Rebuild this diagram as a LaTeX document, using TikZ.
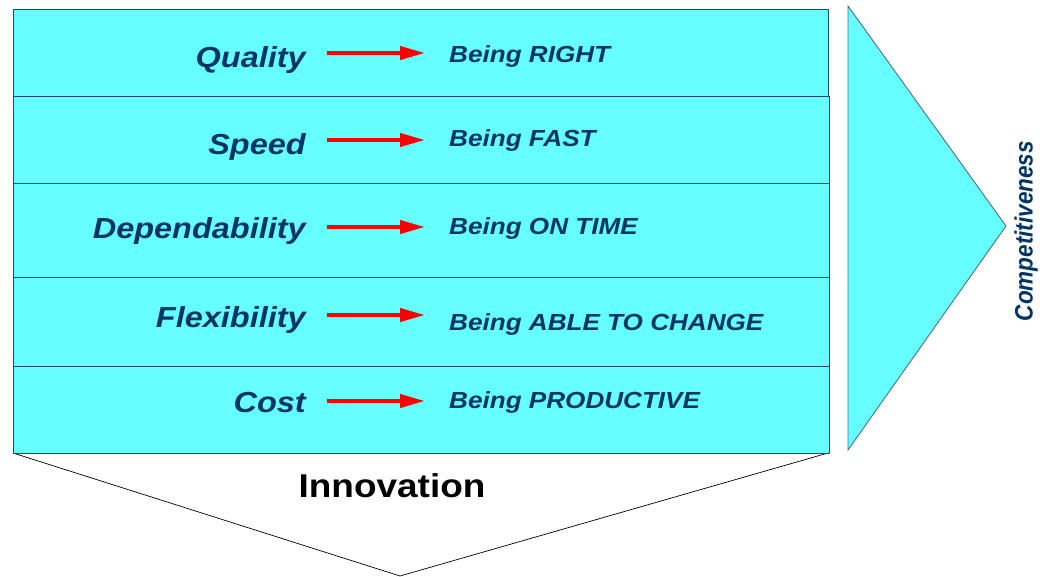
\documentclass[tikz,border=0pt]{standalone}
\usepackage{fontspec}
\setmainfont{Liberation Sans}
\usetikzlibrary{arrows.meta}
\definecolor{rowfill}{HTML}{66FFFF}
\definecolor{rowedge}{HTML}{1F4A6E}
\definecolor{navytext}{HTML}{003366}
\definecolor{arrowred}{HTML}{FF0000}
\tikzset{
  rowbox/.style={draw=rowedge, fill=rowfill, line width=0.9pt},
  factor/.style={inner sep=0pt, anchor=base east, text=navytext, transform shape, xscale=1.12,
    font=\fontsize{29}{29}\selectfont\bfseries\itshape},
  meaning/.style={inner sep=0pt, anchor=base west, text=navytext, transform shape, xscale=1.12,
    font=\fontsize{23.3}{23.3}\selectfont\bfseries\itshape},
  leadsto/.style={draw=arrowred, line width=4pt, -{Triangle[length=25pt, width=13pt]}},
}
\begin{document}
\begin{tikzpicture}[x=1pt, y=-1pt]
  \useasboundingbox (0,0) rectangle (1048,577);

  % innovation funnel below the stack
  \draw[black, line width=0.7pt, fill=white] (13,453) -- (400,576) -- (828,453);

  % five stacked performance rows
  \draw[rowbox] (13,9)   rectangle (828,96);
  \draw[rowbox] (13,96)  rectangle (829,183);
  \draw[rowbox] (13,183) rectangle (829,277);
  \draw[rowbox] (13,277) rectangle (829,366);
  \draw[rowbox] (13,366) rectangle (829,453);

  % competitiveness wedge
  \draw[draw=rowedge!80, fill=rowfill, line width=0.9pt] (848,6) -- (1006,226) -- (848,450) -- cycle;

  % performance objectives
  \node[factor] (quality) at (306,68)  {Quality};
  \node[factor] (speed)   at (306,155) {Speed};
  \node[factor] (depend)  at (306,239) {Dependability};
  \node[factor] (flex)    at (306,327) {Flexibility};
  \node[factor] (cost)    at (306,412) {Cost};

  % what each objective means
  \node[meaning] (right)  at (449,63)  {Being RIGHT};
  \node[meaning] (fast)   at (449,147) {Being FAST};
  \node[meaning] (ontime) at (449,234) {Being ON TIME};
  \node[meaning] (able)   at (449,330) {Being ABLE TO CHANGE};
  \node[meaning] (prod)   at (449,408) {Being PRODUCTIVE};

  % arrow end points
  \coordinate (q0) at (327,53);  \coordinate (q1) at (425,53);
  \coordinate (s0) at (327,140); \coordinate (s1) at (425,140);
  \coordinate (d0) at (327,227); \coordinate (d1) at (425,227);
  \coordinate (f0) at (327,315); \coordinate (f1) at (425,315);
  \coordinate (c0) at (327,401); \coordinate (c1) at (425,401);
  \draw[leadsto] (q0) -- (q1);
  \draw[leadsto] (s0) -- (s1);
  \draw[leadsto] (d0) -- (d1);
  \draw[leadsto] (f0) -- (f1);
  \draw[leadsto] (c0) -- (c1);

  \node[inner sep=0pt, anchor=base, transform shape, xscale=1.12,
        font=\fontsize{33}{33}\selectfont\bfseries] (innov) at (392,497) {Innovation};

  \node[inner sep=0pt, text=navytext, transform shape, xscale=1.12, rotate=90,
        font=\fontsize{22.5}{22.5}\selectfont\bfseries\itshape] (compet) at (1026,231) {Competitiveness};
\end{tikzpicture}
\end{document}
